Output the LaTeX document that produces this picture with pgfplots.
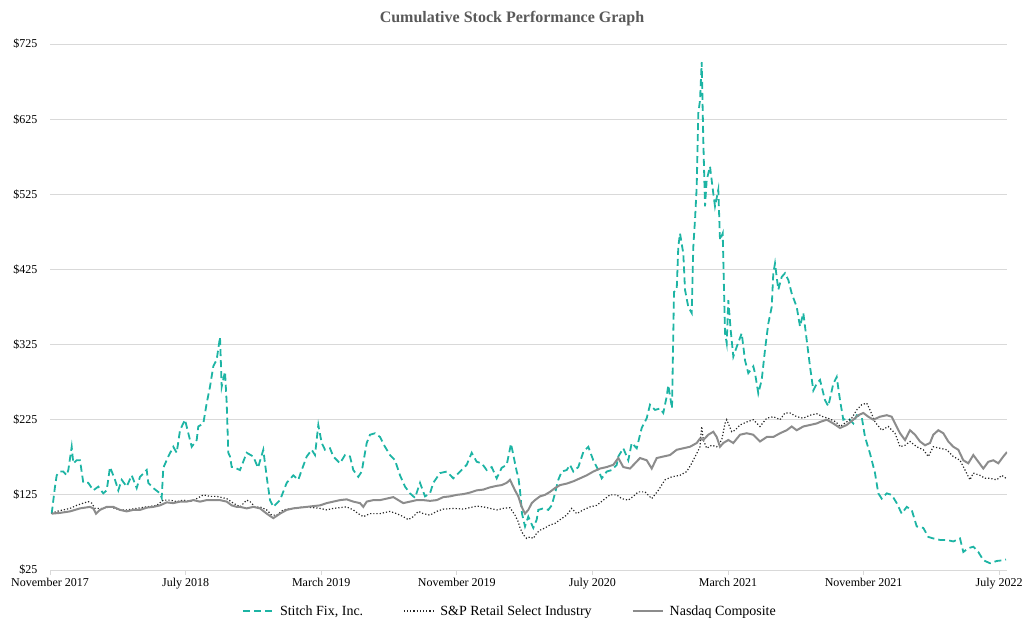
\documentclass[border=0pt]{standalone}
\usepackage{pgfplots}
\usepackage{pgfplotstable}
\pgfplotsset{compat=1.18}
\usepackage{fontspec}
\setmainfont{Liberation Serif}

\definecolor{sfix}{HTML}{1DB4A4}
\definecolor{nasdaq}{HTML}{8C8C8C}
\definecolor{retail}{HTML}{262626}
\definecolor{gridc}{HTML}{D9D9D9}
\definecolor{titlec}{HTML}{595959}

% x = position (px), val = value of $100 invested
\pgfplotstableread{
px val
51.7 100
55 136
56.7 151
60 156
63.3 156
66.7 151
68.3 158
71.7 189
73.3 167
76.7 171
80 171
83.3 141
88.3 141
93.3 131
98.3 136
103.3 127
106.7 131
110 162
115 145
118.3 131
121.7 145
126.7 136
131.7 151
136.7 134
140 149
146.7 158
148.3 141
153.3 134
160 127
161.7 121
163.3 161
168.3 176
173.3 189
176.7 181
180 211
185 225
188.3 207
191.7 189
196.7 198
198.3 216
203.3 220
206.7 247
210 269
213.3 296
216.7 305
220 335
221.7 269
225 289
226.7 247
228.3 181
230 176
231.7 162
233.3 162
240 158
246.7 181
253.3 176
258 161
263.3 185
266.7 149
270 118
273.3 109
280 118
286.7 141
293.3 151
298.3 145
301.7 158
306.7 176
311.7 185
315 178
318.3 218
321.7 194
325 185
330 187
333.3 176
340 167
345 178
350 176
353.3 158
358.3 149
361.7 156
366.7 194
370 205
375 207
380 202
385 189
390 178
395 171
400 151
405 136
410 127
415 121
420 141
425 123
430 127
433.3 141
440 154
446.7 156
453.3 147
460 156
466.7 165
471.7 181
476.7 169
481.7 167
486.7 158
491.7 162
496.7 147
501.7 161
506.7 165
511 193
516.7 156
518.3 149
520 131
522 100
525 83
528.3 96
533.3 81
536.7 92
538.3 105
543.3 107
548.3 105
551.7 111
555 127
558.3 145
561.7 156
566.7 158
570 165
573.3 156
578.3 162
583.3 182
588.3 189
593.3 171
598.3 158
601.7 147
606.7 156
611.7 158
616.7 165
618.3 176
623.3 187
628.3 171
631.7 194
636.7 187
641.7 214
646.7 227
650 245
655 238
660 240
663.3 234
666.7 256
668.3 271
672 240
674 395
676.7 398
678.3 455
680 473
683.3 446
685 398
688.3 375
691.7 367
693.3 455
695 491
696.7 535
698.3 633
700 650
701.7 701
703.3 597
705 509
706.7 544
710 562
713.3 526
715 509
718.3 531
720 464
722.7 473
725 340
726.7 327
728.3 384
730.7 344
733.3 309
736.7 322
741.7 340
745 304
748.3 287
753.3 296
755 287
758.3 260
761.7 278
765 318
768.3 353
771.7 375
773.3 420
775 433
778.3 398
781.7 415
785 420
788.3 411
791.7 393
796.7 375
800 349
803.3 367
806.7 331
810 296
813.3 264
816.7 273
820 278
825 251
828.3 243
833.3 273
836.7 282
840 251
843.3 225
848.3 227
853.3 220
856.7 231
861.7 229
865 202
870 180
875 154
878.3 127
881.7 120
886.7 127
891.7 125
896.7 114
901.7 100
906.7 109
911.7 105
916.7 83
923.3 81
928.3 69
933.3 67
940 65
946.7 65
953.3 63
960 67
963.3 49
968.3 54
973.3 56
978.3 49
983.3 38
990 34
996.7 37
1003.3 38
1006 39
}\sfixdata

\pgfplotstableread{
px val
51.7 100
56.7 103
63.3 105
70 107
76.7 111
83.3 114
88.3 116
91.7 114
95 107
103.3 107
110 109
120 105
126.7 105
136.7 107
146.7 109
156.7 111
163.3 118
170 118
176.7 116
183.3 118
190 116
196.7 120
203.3 125
210 123
216.7 123
226.7 120
233.3 114
240 109
246.7 118
250 116
255 109
260 109
266.7 105
271.7 98
276.7 98
283.3 105
293.3 107
303.3 109
313.3 108
320 107
326.7 105
333.3 107
340 108
346.7 109
353.3 105
358.3 100
363.3 96
370 100
380 100
390 103
396.7 100
403.3 96
408.3 92
413.3 96
418.3 103
423.3 100
430 98
436.7 103
443.3 106
453.3 107
463.3 106
470 108
476.7 110
483.3 109
490 107
496.7 105
503.3 107
510 108
515 98
518.3 89
520 81
523.3 72
526.7 67
530 69
533.3 67
536.7 74
540 78
545 81
550 85
555 87
560 92
566.7 98
571.7 107
576.7 100
583.3 105
590 109
596.7 111
603.3 118
610 125
616.7 125
621.7 120
628.3 118
633.3 123
638.3 129
645 129
651.7 120
658.3 131
665 145
671.7 149
680 151
686.7 156
691.7 167
696.7 180
700 189
701.7 216
703.3 198
706.7 187
711.7 191
716.7 189
721.7 198
725 220
726.7 225
731.7 209
735 211
740 218
746.7 222
753.3 225
760 216
766.7 227
773.3 229
780 225
785 234
790 234
796.7 229
803.3 227
810 231
816.7 233
823 229
830 226
836 222
840 216
846.7 222
851.7 227
856.7 238
861.7 245
866.7 247
870 238
875 222
881.7 211
888.3 216
895 207
900 189
905 191
910 196
916.7 189
923.3 185
928.3 176
933.3 189
940 187
946.7 185
953.3 176
960 171
965 158
970 145
973.3 154
980 151
985 147
990 147
996.7 145
1001.7 151
1006 147
}\retaildata

\pgfplotstableread{
px val
51.7 100
60 101
70 103
80 107
90 109
93.3 107
96 100
100 105
106.7 109
113.3 109
120 105
126.7 103
133.3 105
140 105
146.7 108
153.3 109
160 111
166.7 115
173.3 114
180 116
186.7 116
193.3 118
200 116
206.7 118
213.3 118
220 118
226.7 116
231.7 111
236.7 109
240 109
246.7 107
253.3 109
260 107
266.7 100
273.3 94
280 100
286.7 105
293.3 107
300 108
306.7 109
313.3 110
320 111
326.7 114
333.3 116
340 118
346.7 119
353.3 116
360 114
363.3 109
366.7 116
373.3 118
380 118
386.7 120
393.3 122
398.3 118
403.3 114
410 116
416.7 118
423.3 118
430 117
436.7 118
443.3 122
450 123
456.7 125
463.3 126
470 128
476.7 131
483.3 132
490 135
496.7 137
501.7 138
506.7 141
510 145
515 131
518.3 123
521.7 109
525 100
528.3 105
531.7 114
535 118
540 123
545 125
550 129
555 134
560 138
566.7 140
573.3 143
580 147
586.7 151
593.3 156
600 160
606.7 162
613.3 165
618.3 174
623.3 162
630 160
635 167
640 174
646.7 171
651.7 160
656.7 174
663.3 176
670 178
676.7 185
683.3 187
690 189
696.7 194
700 200
703.3 198
708.3 205
713.3 209
716.7 202
720 189
723.3 194
728.3 198
733.3 194
740 205
746.7 207
753.3 205
760 196
766.7 202
773.3 202
780 207
786.7 211
791.7 216
796.7 211
803.3 216
810 218
816.7 220
820 222
826.7 225
833.3 220
840 214
846.7 218
853.3 225
858.3 231
863.3 234
868.3 229
873.3 225
880 229
886.7 231
891.7 229
895 220
900 207
905 198
910 211
915 205
920 196
925 191
930 194
933.3 205
938.3 211
943.3 207
948.3 196
953.3 189
958.3 185
963.3 171
968.3 167
973.3 178
978.3 169
983.3 160
988.3 169
993.3 171
998.3 167
1003.3 176
1007 182
}\nasdaqdata

\begin{document}
\begin{tikzpicture}
\path[use as bounding box] (0,0) rectangle (1028pt,626pt);
\node[font=\fontsize{16}{19}\selectfont\bfseries, text=titlec] at (512pt,607pt) {Cumulative Stock Performance Graph};
\begin{axis}[
  at={(50pt,56pt)}, anchor=south west,
  scale only axis, width=957pt, height=526pt,
  xmin=0, xmax=56.46, ymin=25, ymax=725,
  axis x line*=bottom, axis y line*=left,
  x axis line style={draw=gridc, line width=0.8pt, -},
  y axis line style={draw=none},
  xtick={0,8,16,24,32,40,48,56},
  xticklabels={November 2017,July 2018,March 2019,November 2019,July 2020,March 2021,November 2021,July 2022},
  ytick={25,125,225,325,425,525,625,725},
  yticklabels={\$25,\$125,\$225,\$325,\$425,\$525,\$625,\$725},
  tick align=outside, major tick length=5pt,
  xtick style={draw=gridc, line width=0.8pt},
  ytick style={draw=none},
  ymajorgrids, grid style={draw=gridc, line width=0.8pt},
  ticklabel style={font=\fontsize{12}{14}\selectfont},
  yticklabel style={xshift=-4pt},
  legend columns=3,
  legend style={draw=none, at={(0.4807,-0.078)}, anchor=center,
    font=\fontsize{14}{16}\selectfont,
    /tikz/every odd column/.append style={column sep=4pt},
    /tikz/every even column/.append style={column sep=38pt}},
  legend image code/.code={\draw[#1] (0pt,0pt) -- (30pt,0pt);},
]
\addplot[sfix, line width=1.8pt, dash pattern=on 7pt off 4pt] table[x expr=(\thisrow{px}-50)/16.95, y=val] {\sfixdata};
\addlegendentry{Stitch Fix, Inc.}
\addplot[retail, line width=1.2pt, dash pattern=on 1.2pt off 2pt] table[x expr=(\thisrow{px}-50)/16.95, y=val] {\retaildata};
\addlegendentry{S\&P Retail Select Industry}
\addplot[nasdaq, line width=2pt] table[x expr=(\thisrow{px}-50)/16.95, y=val] {\nasdaqdata};
\addlegendentry{Nasdaq Composite}
\end{axis}
\end{tikzpicture}
\end{document}
